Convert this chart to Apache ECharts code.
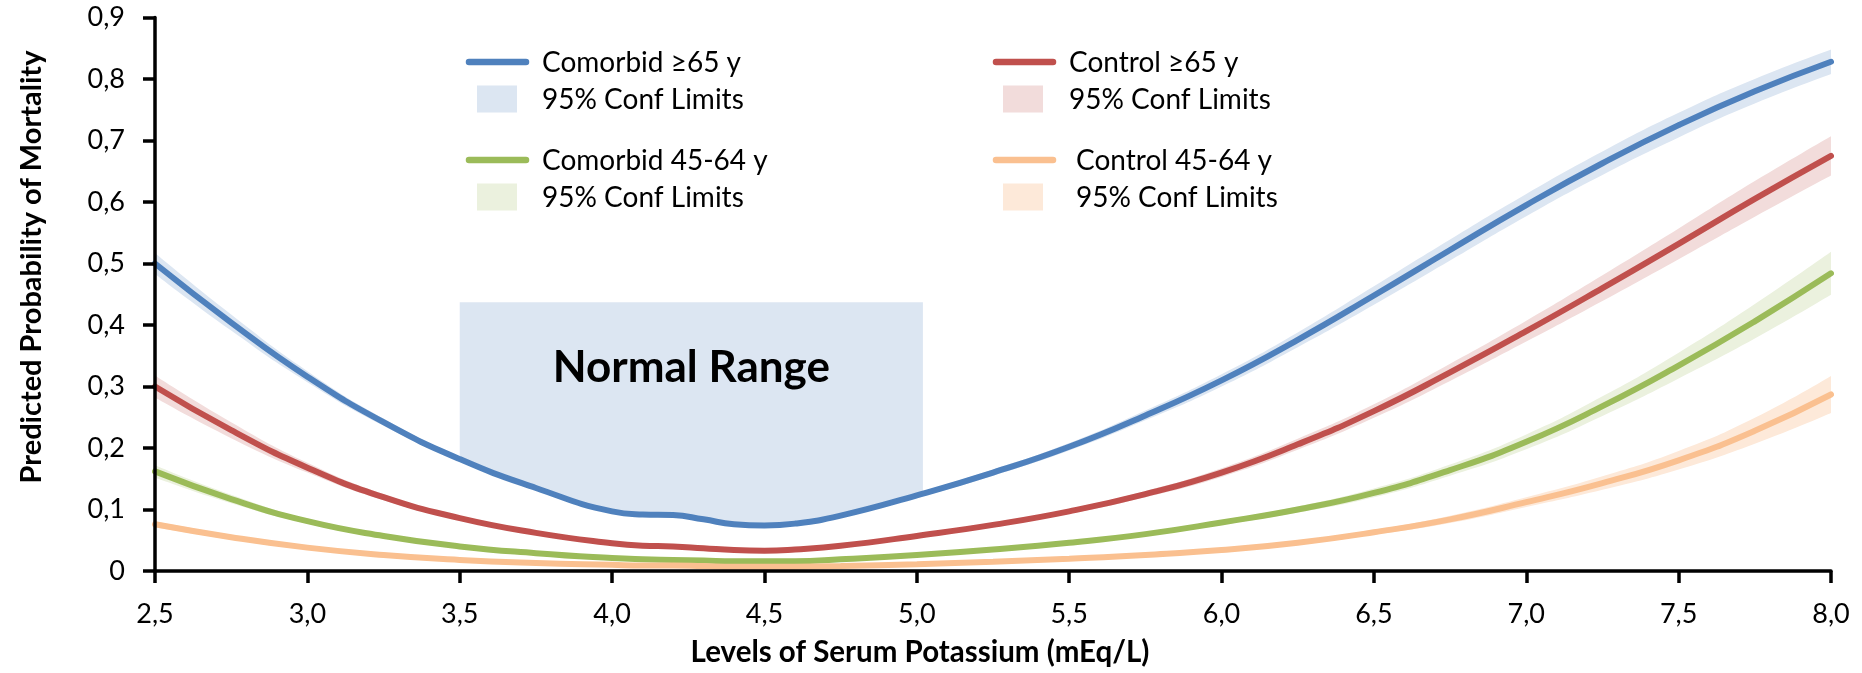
<!DOCTYPE html>
<html><head><meta charset="utf-8">
<script src="https://cdn.jsdelivr.net/npm/echarts@6/dist/echarts.min.js"></script>
<style>html,body{margin:0;padding:0;background:#fff}#c{width:1862px;height:673px}</style>
</head><body><div id="c"></div>
<script>
// ---- data ----
const potassium = [2.5, 2.75, 3.0, 3.25, 3.5, 3.75, 4.0, 4.1, 4.2, 4.3, 4.4, 4.5, 4.6, 4.75, 5.0, 5.25, 5.5, 5.75, 6.0, 6.25, 6.5, 6.75, 7.0, 7.25, 7.5, 7.75, 8.0];
const comorbid65 = [0.500, 0.404, 0.316, 0.242, 0.182, 0.135, 0.097, 0.092, 0.091, 0.084, 0.076, 0.074, 0.077, 0.090, 0.123, 0.160, 0.202, 0.253, 0.310, 0.376, 0.448, 0.522, 0.595, 0.663, 0.725, 0.780, 0.828];
const control65 = [0.300, 0.229, 0.168, 0.120, 0.086, 0.062, 0.045, 0.041, 0.040, 0.037, 0.034, 0.033, 0.035, 0.041, 0.057, 0.075, 0.097, 0.125, 0.160, 0.206, 0.260, 0.323, 0.390, 0.460, 0.532, 0.605, 0.675];
const comorbid4564 = [0.162, 0.117, 0.081, 0.057, 0.040, 0.029, 0.021, 0.019, 0.018, 0.017, 0.016, 0.016, 0.016, 0.019, 0.026, 0.035, 0.046, 0.060, 0.079, 0.100, 0.127, 0.164, 0.210, 0.268, 0.334, 0.406, 0.484];
const control4564 = [0.076, 0.055, 0.038, 0.026, 0.018, 0.013, 0.010, 0.009, 0.009, 0.008, 0.007, 0.007, 0.007, 0.008, 0.011, 0.015, 0.020, 0.026, 0.034, 0.046, 0.063, 0.084, 0.112, 0.143, 0.180, 0.228, 0.287];
// half-widths of the 95% confidence limits
const comorbid65CI = [0.017, 0.013, 0.009, 0.006, 0.004, 0.003, 0.003, 0.003, 0.003, 0.003, 0.003, 0.003, 0.003, 0.003, 0.004, 0.005, 0.006, 0.008, 0.010, 0.012, 0.015, 0.017, 0.018, 0.019, 0.020, 0.020, 0.020];
const control65CI = [0.018, 0.013, 0.008, 0.005, 0.003, 0.002, 0.002, 0.002, 0.002, 0.002, 0.002, 0.002, 0.002, 0.002, 0.002, 0.003, 0.004, 0.005, 0.007, 0.009, 0.011, 0.014, 0.017, 0.021, 0.025, 0.029, 0.032];
const comorbid4564CI = [0.010, 0.007, 0.004, 0.003, 0.002, 0.001, 0.001, 0.001, 0.001, 0.001, 0.001, 0.001, 0.001, 0.001, 0.001, 0.002, 0.002, 0.003, 0.004, 0.005, 0.007, 0.009, 0.012, 0.016, 0.021, 0.028, 0.035];
const control4564CI = [0.005, 0.004, 0.003, 0.002, 0.001, 0.001, 0.001, 0.001, 0.001, 0.001, 0.001, 0.001, 0.001, 0.001, 0.001, 0.001, 0.001, 0.002, 0.002, 0.003, 0.004, 0.006, 0.008, 0.011, 0.015, 0.021, 0.030];
const seriesNames = ['Comorbid ≥65 y', 'Control ≥65 y', 'Comorbid 45-64 y', 'Control 45-64 y'];
const confLabel = '95% Conf Limits';
const normalRangeX = [3.5, 5.02];
const normalRangeTop = 0.437;
const normalRangeLabel = 'Normal Range';
const xAxisTitle = 'Levels of Serum Potassium (mEq/L)';
const yAxisTitle = 'Predicted Probability of Mortality';

// ---- styling ----
const lineColors = ['#4f81bd', '#c0504d', '#9bbb59', '#fac090'];
const bandColors = ['#dce6f2', '#f2dcdb', '#ebf1de', '#fde9d9'];
const FONT = 'Lato, "Open Sans", sans-serif';
const SMOOTH = 0.5;

const values = [comorbid65, control65, comorbid4564, control4564];
const cis = [comorbid65CI, control65CI, comorbid4564CI, control4564CI];

const series = [];
// normal range box
series.push({
  type: 'line', data: [[2.5, 0]], symbol: 'none', lineStyle: {width: 0}, z: 1, silent: true,
  markArea: {
    silent: true,
    itemStyle: {color: '#dce6f2'},
    label: {
      show: true, position: ['50%', 66], align: 'center', verticalAlign: 'middle',
      formatter: normalRangeLabel, color: '#000', fontFamily: FONT, fontWeight: 'bold', fontSize: 44
    },
    data: [[{xAxis: normalRangeX[0], yAxis: 0}, {xAxis: normalRangeX[1], yAxis: normalRangeTop}]]
  }
});
// confidence bands: upper limit filled with band colour, lower limit filled white (curves are nested)
values.forEach((v, k) => {
  const h = cis[k];
  series.push({
    type: 'line', smooth: SMOOTH, symbol: 'none', silent: true, z: 2 + 2 * k,
    lineStyle: {width: 0},
    areaStyle: {color: bandColors[k], opacity: 1},
    data: potassium.map((x, i) => [x, v[i] + h[i]])
  });
  series.push({
    type: 'line', smooth: SMOOTH, symbol: 'none', silent: true, z: 3 + 2 * k,
    lineStyle: {width: 0},
    areaStyle: {color: '#ffffff', opacity: 1},
    data: potassium.map((x, i) => [x, v[i] - h[i]])
  });
});
// main lines
values.forEach((v, k) => {
  series.push({
    name: seriesNames[k], type: 'line', smooth: SMOOTH, symbol: 'none', silent: true, z: 20,
    lineStyle: {width: 6, color: lineColors[k], cap: 'round'},
    data: potassium.map((x, i) => [x, v[i]])
  });
});

// legend drawn as graphics
const legendGraphics = [];
const cols = [{lx: 469, sx: 477, tx: [542, 542]}, {lx: 996, sx: 1003, tx: [1069, 1076]}];
const rowsY = [[62, 99], [160, 197]];
const order = [[0, 1], [2, 3]];
order.forEach((pair, r) => {
  pair.forEach((si, c) => {
    const col = cols[c];
    const yL = rowsY[r][0], yB = rowsY[r][1];
    legendGraphics.push({
      type: 'line', z: 100, shape: {x1: col.lx, y1: yL, x2: col.lx + 57, y2: yL},
      style: {stroke: lineColors[si], lineWidth: 6.5, lineCap: 'round'}
    });
    legendGraphics.push({
      type: 'rect', z: 100, shape: {x: col.sx, y: yB - 13.5, width: 40, height: 27},
      style: {fill: bandColors[si]}
    });
    legendGraphics.push({
      type: 'text', z: 100, x: col.tx[r], y: yL + 1,
      style: {text: seriesNames[si], font: '28px ' + FONT, fill: '#000', align: 'left', verticalAlign: 'middle'}
    });
    legendGraphics.push({
      type: 'text', z: 100, x: col.tx[r], y: yB + 1,
      style: {text: confLabel, font: '28px ' + FONT, fill: '#000', align: 'left', verticalAlign: 'middle'}
    });
  });
});
legendGraphics.push({
  type: 'text', z: 100, x: 920, y: 652,
  style: {text: xAxisTitle, font: 'bold 29.5px ' + FONT, fill: '#000', align: 'center', verticalAlign: 'middle'}
});
legendGraphics.push({
  type: 'text', z: 100, x: 32, y: 267, rotation: Math.PI / 2,
  style: {text: yAxisTitle, font: 'bold 29px ' + FONT, fill: '#000', align: 'center', verticalAlign: 'middle'}
});

const fmt = v => (v === 0 ? '0' : v.toFixed(1).replace('.', ','));

const chart = echarts.init(document.getElementById('c'), null, {renderer: 'canvas'});
chart.setOption({
  animation: false,
  backgroundColor: '#fff',
  grid: {left: 155, right: 31, top: 17.5, bottom: 102, containLabel: false},
  xAxis: {
    type: 'value', min: 2.5, max: 8.0, interval: 0.5, z: 50,
    splitLine: {show: false},
    axisLine: {show: true, onZero: false, lineStyle: {color: '#000', width: 3.5}},
    axisTick: {show: true, length: 12, lineStyle: {color: '#000', width: 3.5}},
    axisLabel: {margin: 30, color: '#000', fontFamily: FONT, fontSize: 27, formatter: v => v.toFixed(1).replace('.', ',')}
  },
  yAxis: {
    type: 'value', min: 0, max: 0.9, interval: 0.1, z: 50,
    splitLine: {show: false},
    axisLine: {show: true, lineStyle: {color: '#000', width: 3.5}},
    axisTick: {show: true, length: 12, lineStyle: {color: '#000', width: 3.5}},
    axisLabel: {margin: 30, color: '#000', fontFamily: FONT, fontSize: 27, formatter: fmt}
  },
  graphic: {elements: legendGraphics},
  series: series
});
</script>
</body></html>
